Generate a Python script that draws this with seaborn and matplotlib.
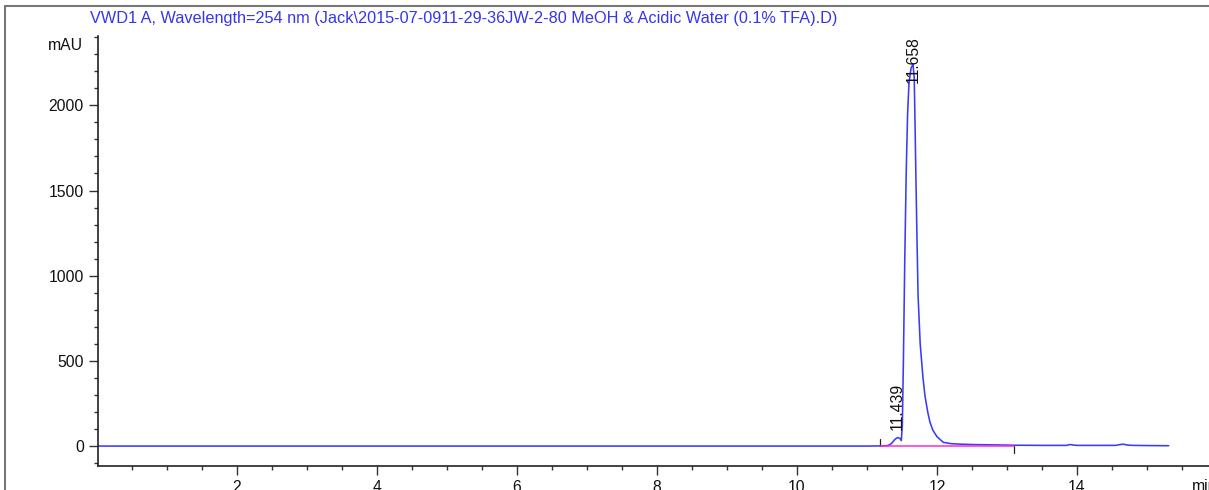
import numpy as np
import pandas as pd
import seaborn as sns
import matplotlib.pyplot as plt
from matplotlib.ticker import MultipleLocator
from matplotlib.lines import Line2D

# Retention time (min) and detector response (mAU) of the VWD1 trace
time_min = [0.0, 2.0, 4.0, 6.0, 8.0, 10.0, 11.0, 11.20, 11.30, 11.35, 11.40,
            11.439, 11.47, 11.49, 11.505, 11.52, 11.54, 11.56, 11.58, 11.60,
            11.63, 11.658, 11.675, 11.686, 11.70, 11.715, 11.73, 11.76, 11.80,
            11.83, 11.87, 11.90, 11.94, 12.00, 12.09, 12.2, 12.35, 12.5, 12.8,
            13.1, 13.5, 13.85, 13.9, 13.95, 14.0, 14.55, 14.62, 14.66, 14.72,
            14.8, 15.0, 15.31]
signal_mau = [0, 0, 0, 0, 0, 0, 0, 1, 3, 15, 40,
              50, 45, 32, 120, 500, 1100, 1600, 1950, 2130,
              2220, 2240, 2160, 1900, 1550, 1200, 880, 600, 400,
              290, 195, 140, 94, 55, 22, 14, 11, 9, 7,
              5, 4, 4, 9, 6, 4, 4, 9, 11, 6,
              4, 3, 2]

# Integrated peaks (retention time labels) and integration baseline
peak_times = [11.439, 11.658]
peak_label_y = [95, 2130]
baseline_t = [11.19, 13.10]
baseline_y = [0, 0]
marker_len = 40  # mAU, start/stop markers of integration

title = ("VWD1 A, Wavelength=254 nm (Jack\\2015-07-0911-29-36JW-2-80 MeOH & "
         "Acidic Water (0.1% TFA).D)")

sns.set_theme(style="white")
plt.rcParams['font.family'] = ['Liberation Sans', 'DejaVu Sans']

W, H = 1209, 490
fig = plt.figure(figsize=(W / 100, H / 100), dpi=100)
fig.patch.set_facecolor('white')
ax = fig.add_axes([98 / W, 24 / H, 1 - 98 / W, 430 / H])

trace = pd.DataFrame({"t": time_min, "mAU": signal_mau})
sns.lineplot(data=trace, x="t", y="mAU", ax=ax, color="#3b3bf5",
             linewidth=1.15, estimator=None)

# integration baseline and start/stop markers
ax.plot(baseline_t, baseline_y, color="#ff2bd0", linewidth=1.1, zorder=3)
ax.plot([baseline_t[0]] * 2, [0, marker_len], color="#222222", linewidth=0.9)
ax.plot([baseline_t[1]] * 2, [0, -marker_len], color="#222222", linewidth=0.9)

for t, y in zip(peak_times, peak_label_y):
    ax.text(t, y, f"{t:.3f}", rotation=90, ha="center", va="bottom",
            fontsize=11.3, color="#111111")

ax.set_xlim(0.014, 15.886)
ax.set_ylim(-117, 2407)
ax.set_xlabel("")
ax.set_ylabel("")

ax.xaxis.set_major_locator(MultipleLocator(2))
ax.xaxis.set_minor_locator(MultipleLocator(0.5))
ax.yaxis.set_major_locator(MultipleLocator(500))
ax.yaxis.set_minor_locator(MultipleLocator(100))

for side in ("top", "right"):
    ax.spines[side].set_visible(False)
for side in ("left", "bottom"):
    ax.spines[side].set_color("#222222")
    ax.spines[side].set_linewidth(1.2)

ax.tick_params(which="both", bottom=True, left=True, direction="out",
               color="#333333", width=1.0, labelsize=11.3, labelcolor="#111111")
ax.tick_params(which="major", length=6.5, pad=3.6)
ax.tick_params(which="minor", length=3)

fig.text(90 / W, 1 - 18 / H, title, color="#3535f0", fontsize=11.7,
         ha="left", va="center")
fig.text(83 / W, 1 - 45 / H, "mAU", fontsize=11.3, color="#111111",
         ha="right", va="center")
fig.text(1192 / W, 1 - 479 / H, "min", fontsize=11.3, color="#111111",
         ha="left", va="top")

# outer report frame
fig.add_artist(Line2D([5 / W, 5 / W], [0, 1 - 6 / H], color="#777777",
                      linewidth=1.5, transform=fig.transFigure))
fig.add_artist(Line2D([5 / W, 1], [1 - 6 / H, 1 - 6 / H], color="#777777",
                      linewidth=1.5, transform=fig.transFigure))

fig.savefig("out.png", dpi=100)
